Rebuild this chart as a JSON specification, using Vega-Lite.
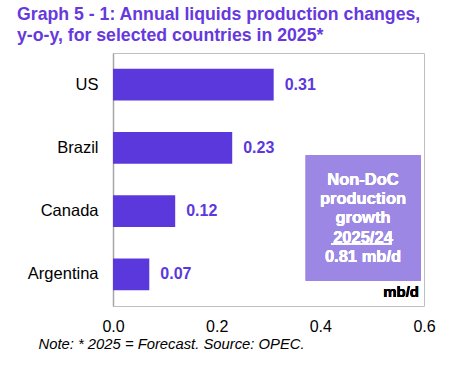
{
  "$schema": "https://vega.github.io/schema/vega-lite/v6.json",
  "width": 311,
  "height": 253,
  "autosize": {"type": "none"},
  "padding": {"left": 113, "top": 53, "right": 25, "bottom": 59},
  "background": "white",
  "config": {
    "font": "Liberation Sans",
    "view": {"stroke": "#BFBFBF", "strokeWidth": 1}
  },
  "title": {
    "text": ["Graph 5 - 1: Annual liquids production changes,", "y-o-y, for selected countries in 2025*"],
    "anchor": "start",
    "frame": "group",
    "dx": -96,
    "offset": 8,
    "fontSize": 17.7,
    "fontWeight": "bold",
    "color": "#6639DE",
    "lineHeight": 21.5,
    "font": "Liberation Sans"
  },
  "data": {
    "values": [
      {"country": "US", "value": 0.31},
      {"country": "Brazil", "value": 0.23},
      {"country": "Canada", "value": 0.12},
      {"country": "Argentina", "value": 0.07}
    ]
  },
  "layer": [
    {
      "layer": [
        {
          "mark": {"type": "bar", "color": "#5B38DB"},
          "encoding": {
            "y": {
              "field": "country", "type": "nominal", "sort": null,
              "scale": {"paddingInner": 0.5, "paddingOuter": 0.25},
              "axis": {"title": null, "ticks": false, "labelFontSize": 16.5, "labelColor": "black", "labelPadding": 15, "domainColor": "#A6A6A6", "domainWidth": 1.5}
            },
            "x": {
              "field": "value", "type": "quantitative",
              "scale": {"domain": [0, 0.6]},
              "axis": {
                "values": [0, 0.2, 0.4, 0.6], "format": ".1f", "grid": false, "ticks": false, "domain": false,
                "labelFontSize": 16, "labelColor": "black", "labelPadding": 12, "labelFlush": false,
                "title": "Note: * 2025 = Forecast. Source: OPEC.",
                "titleFontStyle": "italic", "titleFontWeight": "normal", "titleFontSize": 14.8, "titleColor": "black",
                "titleAnchor": "start", "titleAlign": "left", "titleX": -75, "titleY": 42, "titleBaseline": "alphabetic"
              }
            }
          }
        },
        {
          "mark": {"type": "text", "align": "left", "baseline": "middle", "dx": 11, "fontSize": 16, "fontWeight": "bold", "color": "#5B38DB"},
          "encoding": {
            "y": {"field": "country", "type": "nominal", "sort": null},
            "x": {"field": "value", "type": "quantitative"},
            "text": {"field": "value", "type": "quantitative", "format": ".2f"}
          }
        }
      ]
    },
    {
      "layer": [
        {
          "mark": {"type": "rect", "color": "#9D87E4"},
          "encoding": {
            "x": {"datum": 0.3718, "type": "quantitative"},
            "x2": {"datum": 0.5936},
            "y": {"datum": 155, "type": "quantitative", "scale": {"domain": [0, 253]}, "axis": null},
            "y2": {"datum": 26}
          }
        },
        {
          "mark": {"type": "text", "align": "center", "baseline": "alphabetic", "fontSize": 16.5, "fontWeight": "bold", "color": "white", "lineHeight": 19.3},
          "encoding": {
            "x": {"datum": 0.4823, "type": "quantitative"},
            "y": {"datum": 124.5, "type": "quantitative"},
            "text": {"value": ["Non-DoC", "production", "growth", "2025/24", "0.81 mb/d"]}
          }
        },
        {
          "mark": {"type": "rule", "color": "white", "strokeWidth": 1.5},
          "encoding": {
            "x": {"datum": 0.4207, "type": "quantitative"},
            "x2": {"datum": 0.5377},
            "y": {"datum": 64, "type": "quantitative"}
          }
        },
        {
          "mark": {"type": "text", "align": "right", "baseline": "alphabetic", "fontSize": 15, "fontWeight": "bold", "color": "black"},
          "encoding": {
            "x": {"datum": 0.5904, "type": "quantitative"},
            "y": {"datum": 9.3, "type": "quantitative"},
            "text": {"value": "mb/d"}
          }
        }
      ]
    }
  ],
  "resolve": {"scale": {"y": "independent"}}
}
